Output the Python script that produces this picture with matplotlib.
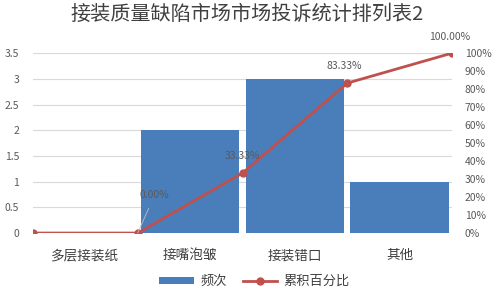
import matplotlib.pyplot as plt
import numpy as np

plt.rcParams['font.family'] = ['Noto Sans CJK SC', 'DejaVu Sans']

# datos
categorias = ['多层接装纸', '接嘴泡皱', '接装错口', '其他']
frecuencia = [0, 2, 3, 1]
acumulado = [0, 0, 33.33, 83.33, 100]   # % en los bordes de cada categoria
etiquetas_pct = ['0.00%', '33.33%', '83.33%', '100.00%']

azul = '#4A7EBB'
rojo = '#C0504D'
gris = '#595959'

fig = plt.figure(figsize=(4.99, 2.95), dpi=100)
ax = fig.add_axes([0.066, 0.21, 0.84, 0.61])

x = np.arange(len(categorias))
barras = ax.bar(x + 0.5, frecuencia, width=0.94, color=azul, label='频次', zorder=2)
ax.set_xlim(0, len(categorias))
ax.set_ylim(0, 3.5)
ax.set_yticks(np.arange(0, 3.51, 0.5))
ax.set_yticklabels(['0', '0.5', '1', '1.5', '2', '2.5', '3', '3.5'])
ax.set_xticks(x + 0.5)
ax.set_xticklabels(categorias, fontsize=9.8, color='#404040')
ax.tick_params(axis='y', length=0, labelsize=7.5, colors=gris, pad=10)
ax.tick_params(axis='x', length=0, pad=11)
ax.grid(axis='y', color='#D9D9D9', linewidth=0.8, zorder=0)
for s in ax.spines.values():
    s.set_visible(False)

# eje derecho
ax2 = ax.twinx()
xs = np.arange(len(acumulado))
linea, = ax2.plot(xs, np.array(acumulado) / 100, color=rojo, linewidth=2,
                  marker='o', markersize=5, label='累积百分比', zorder=3)
ax2.set_ylim(0, 1)
ax2.set_yticks(np.arange(0, 1.01, 0.1))
ax2.set_yticklabels([f'{int(round(v * 100))}%' for v in np.arange(0, 1.01, 0.1)])
ax2.tick_params(axis='y', length=0, labelsize=7.5, colors=gris, pad=9)
for s in ax2.spines.values():
    s.set_visible(False)

# etiquetas de datos
ax2.annotate(etiquetas_pct[0], xy=(1, 0), xytext=(1.16, 0.21), fontsize=7.5, color=gris,
             ha='center', va='center',
             arrowprops=dict(arrowstyle='-', color='#BFBFBF', lw=0.6, shrinkA=4, shrinkB=0))
ax2.text(2, 0.43, etiquetas_pct[1], fontsize=7.5, color=gris, ha='center', va='center')
ax2.text(2.97, 0.93, etiquetas_pct[2], fontsize=7.5, color=gris, ha='center', va='center')
ax2.text(3.98, 1.09, etiquetas_pct[3], fontsize=7.5, color=gris, ha='center', va='center',
         clip_on=False)

fig.text(0.495, 0.952, '接装质量缺陷市场市场投诉统计排列表2', ha='center', va='center',
         fontsize=14.5, color='#404040')

fig.legend(handles=[barras, linea], loc='center', bbox_to_anchor=(0.51, 0.045),
           ncol=2, frameon=False, fontsize=9.5, handlelength=2.6, handleheight=0.5,
           columnspacing=1.2, handletextpad=0.5, labelcolor='#404040')

fig.savefig('out.png', dpi=100)
